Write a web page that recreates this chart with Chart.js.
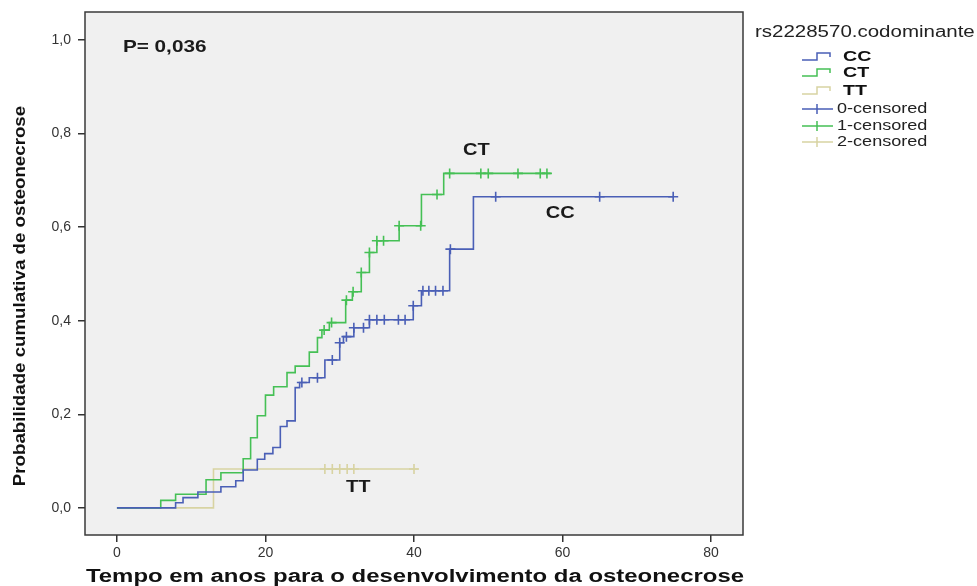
<!DOCTYPE html>
<html>
<head>
<meta charset="utf-8">
<script src="https://cdn.jsdelivr.net/npm/chart.js@4.4.1/dist/chart.umd.min.js"></script>
<style>
  html, body { margin: 0; padding: 0; background: #ffffff; }
</style>
</head>
<body>
<canvas id="km" width="977" height="586"></canvas>
<script>
// tick labels
const xTicks = [0, 20, 40, 60, 80];
const yTicks = [0, 0.2, 0.4, 0.6, 0.8, 1.0];

// CC genotype: event times (years) and cumulative probability after each step
const ccTime = [0, 7.9, 8.9, 10.9, 14.0, 16.0, 17.0, 18.9, 19.9, 21.0, 22.0, 22.9, 24.0, 24.6, 25.9, 28.0, 30.0, 30.5, 31.9, 34.0, 39.9, 41.0, 44.8, 48.0, 75.0];
const ccProb = [0, 0.011, 0.022, 0.034, 0.045, 0.058, 0.081, 0.104, 0.116, 0.129, 0.174, 0.186, 0.257, 0.268, 0.278, 0.316, 0.353, 0.366, 0.385, 0.402, 0.432, 0.464, 0.553, 0.665, 0.665];
const ccCensored = [24.9, 27.0, 29.0, 30.0, 30.9, 31.9, 33.2, 34.0, 35.0, 36.0, 37.9, 38.8, 39.9, 41.2, 42.0, 42.9, 43.9, 44.9, 51.0, 65.0, 74.9];

// CT genotype
const ctTime = [0, 5.9, 7.9, 12.0, 14.0, 17.0, 18.0, 18.9, 20.0, 21.1, 22.9, 24.0, 25.9, 27.0, 27.6, 28.6, 30.8, 31.7, 32.9, 34.0, 35.0, 38.0, 41.0, 44.0, 58.4];
const ctProb = [0, 0.016, 0.029, 0.060, 0.075, 0.105, 0.150, 0.197, 0.241, 0.259, 0.289, 0.303, 0.333, 0.364, 0.380, 0.396, 0.444, 0.462, 0.503, 0.546, 0.571, 0.603, 0.670, 0.715, 0.715];
const ctCensored = [27.9, 28.9, 30.9, 31.8, 32.9, 34.0, 35.0, 35.9, 38.0, 40.9, 43.1, 44.8, 49.0, 50.0, 54.0, 57.0, 57.9];

// TT genotype
const ttTime = [0, 13.0, 40.6];
const ttProb = [0, 0.083, 0.083];
const ttCensored = [28.0, 29.0, 30.0, 31.0, 31.9, 40.0];

const blue = '#4a5fb6';
const green = '#45c055';
const tan = '#d8d3a2';
const FONT = '"Liberation Sans", Arial, sans-serif';

function stepPoints(times, probs) {
  return times.map((t, i) => ({ x: t, y: probs[i] }));
}
// censored marks sit on the curve: value of the step function at that time
function censorPoints(cens, times, probs) {
  return cens.map(t => {
    let v = 0;
    for (let i = 0; i < times.length; i++) { if (times[i] <= t) v = probs[i]; }
    return { x: t, y: v };
  });
}
function lineSet(label, times, probs, color) {
  return {
    type: 'line', label: label, data: stepPoints(times, probs),
    stepped: 'before', borderColor: color, borderWidth: 1.6,
    pointRadius: 0, fill: false, tension: 0
  };
}
function censorSet(label, cens, times, probs, color) {
  return {
    type: 'scatter', label: label, data: censorPoints(cens, times, probs),
    pointStyle: 'cross', pointRadius: 5, borderColor: color, borderWidth: 1.6,
    backgroundColor: color, showLine: false
  };
}

// the original export is a bit wider than tall, so text is drawn stretched sideways
function wideText(ctx, text, x, y, sx, align) {
  ctx.save();
  ctx.translate(x, y);
  ctx.scale(sx, 1);
  ctx.textAlign = align || 'left';
  ctx.fillText(text, 0, 0);
  ctx.restore();
}

const frame = {
  id: 'frame',
  beforeDraw(chart) {
    const { ctx, chartArea: a } = chart;
    ctx.save();
    ctx.fillStyle = '#f0f0f0';
    ctx.fillRect(a.left, a.top, a.right - a.left, a.bottom - a.top);
    ctx.restore();
  },
  afterDraw(chart) {
    const { ctx, chartArea: a, scales } = chart;
    const px = v => scales.x.getPixelForValue(v);
    const py = v => scales.y.getPixelForValue(v);
    ctx.save();
    ctx.strokeStyle = '#3a3a3a';
    ctx.lineWidth = 1.5;
    ctx.strokeRect(a.left, a.top, a.right - a.left, a.bottom - a.top);

    ctx.fillStyle = '#111';
    ctx.textBaseline = 'middle';

    // axis titles
    ctx.font = 'bold 18px ' + FONT;
    wideText(ctx, 'Tempo em anos para o desenvolvimento da osteonecrose', 415, 577, 1.33, 'center');
    ctx.save();
    ctx.translate(20, 296);
    ctx.rotate(-Math.PI / 2);
    ctx.font = 'bold 17px ' + FONT;
    wideText(ctx, 'Probabilidade cumulativa de osteonecrose', 0, 0, 1.1, 'center');
    ctx.restore();

    // annotations inside the plot
    ctx.fillStyle = '#1a1a1a';
    ctx.font = 'bold 17px ' + FONT;
    wideText(ctx, 'P= 0,036', px(0.8), py(0.985), 1.22, 'left');
    ctx.font = 'bold 16px ' + FONT;
    wideText(ctx, 'CT', px(48.4), py(0.763), 1.25, 'center');
    wideText(ctx, 'CC', px(59.7), py(0.630), 1.25, 'center');
    wideText(ctx, 'TT', px(32.5), py(0.043), 1.25, 'center');

    // legend
    ctx.fillStyle = '#222';
    ctx.font = '16px ' + FONT;
    wideText(ctx, 'rs2228570.codominante', 755, 33, 1.28, 'left');
    const groups = [['CC', blue, 57], ['CT', green, 73], ['TT', tan, 91]];
    ctx.lineWidth = 1.5;
    groups.forEach(([name, col, y]) => {
      ctx.strokeStyle = col;
      ctx.beginPath();
      ctx.moveTo(802, y + 3); ctx.lineTo(817, y + 3); ctx.lineTo(817, y - 4);
      ctx.lineTo(830, y - 4); ctx.lineTo(830, y);
      ctx.stroke();
      ctx.fillStyle = '#111';
      ctx.font = 'bold 14px ' + FONT;
      wideText(ctx, name, 843, y, 1.4, 'left');
    });
    const cens = [['0-censored', blue, 109], ['1-censored', green, 126], ['2-censored', tan, 142]];
    cens.forEach(([name, col, y]) => {
      ctx.strokeStyle = col;
      ctx.beginPath();
      ctx.moveTo(802, y); ctx.lineTo(833, y);
      ctx.moveTo(817, y - 5); ctx.lineTo(817, y + 5);
      ctx.stroke();
      ctx.fillStyle = '#222';
      ctx.font = '14px ' + FONT;
      wideText(ctx, name, 837, y, 1.29, 'left');
    });
    ctx.restore();
  }
};

new Chart(document.getElementById('km'), {
  data: {
    datasets: [
      lineSet('CC', ccTime, ccProb, blue),
      lineSet('CT', ctTime, ctProb, green),
      lineSet('TT', ttTime, ttProb, tan),
      censorSet('0-censored', ccCensored, ccTime, ccProb, blue),
      censorSet('1-censored', ctCensored, ctTime, ctProb, green),
      censorSet('2-censored', ttCensored, ttTime, ttProb, tan)
    ]
  },
  options: {
    responsive: false,
    animation: false,
    devicePixelRatio: 1,
    layout: { padding: { left: 0, right: 234, top: 12, bottom: 0 } },
    plugins: { legend: { display: false }, tooltip: { enabled: false } },
    scales: {
      x: {
        type: 'linear', min: -4.3, max: 84.3,
        afterBuildTicks: s => { s.ticks = xTicks.map(v => ({ value: v })); },
        afterFit: s => { s.height = 51; s.paddingLeft = 0; s.paddingRight = 0; },
        grid: { drawOnChartArea: false, drawTicks: true, tickLength: 7, color: '#333', lineWidth: 1.5 },
        border: { display: false },
        ticks: { color: '#333', font: { family: FONT, size: 14 }, padding: 3, callback: v => String(v) }
      },
      y: {
        type: 'linear', min: -0.058, max: 1.06,
        afterBuildTicks: s => { s.ticks = yTicks.map(v => ({ value: v })); },
        afterFit: s => { s.width = 85; s.paddingTop = 0; s.paddingBottom = 0; },
        grid: { drawOnChartArea: false, drawTicks: true, tickLength: 7, color: '#333', lineWidth: 1.5 },
        border: { display: false },
        ticks: { color: '#333', font: { family: FONT, size: 14 }, padding: 7,
          callback: v => v.toFixed(1).replace('.', ',') }
      }
    }
  },
  plugins: [frame]
});
</script>
</body>
</html>
